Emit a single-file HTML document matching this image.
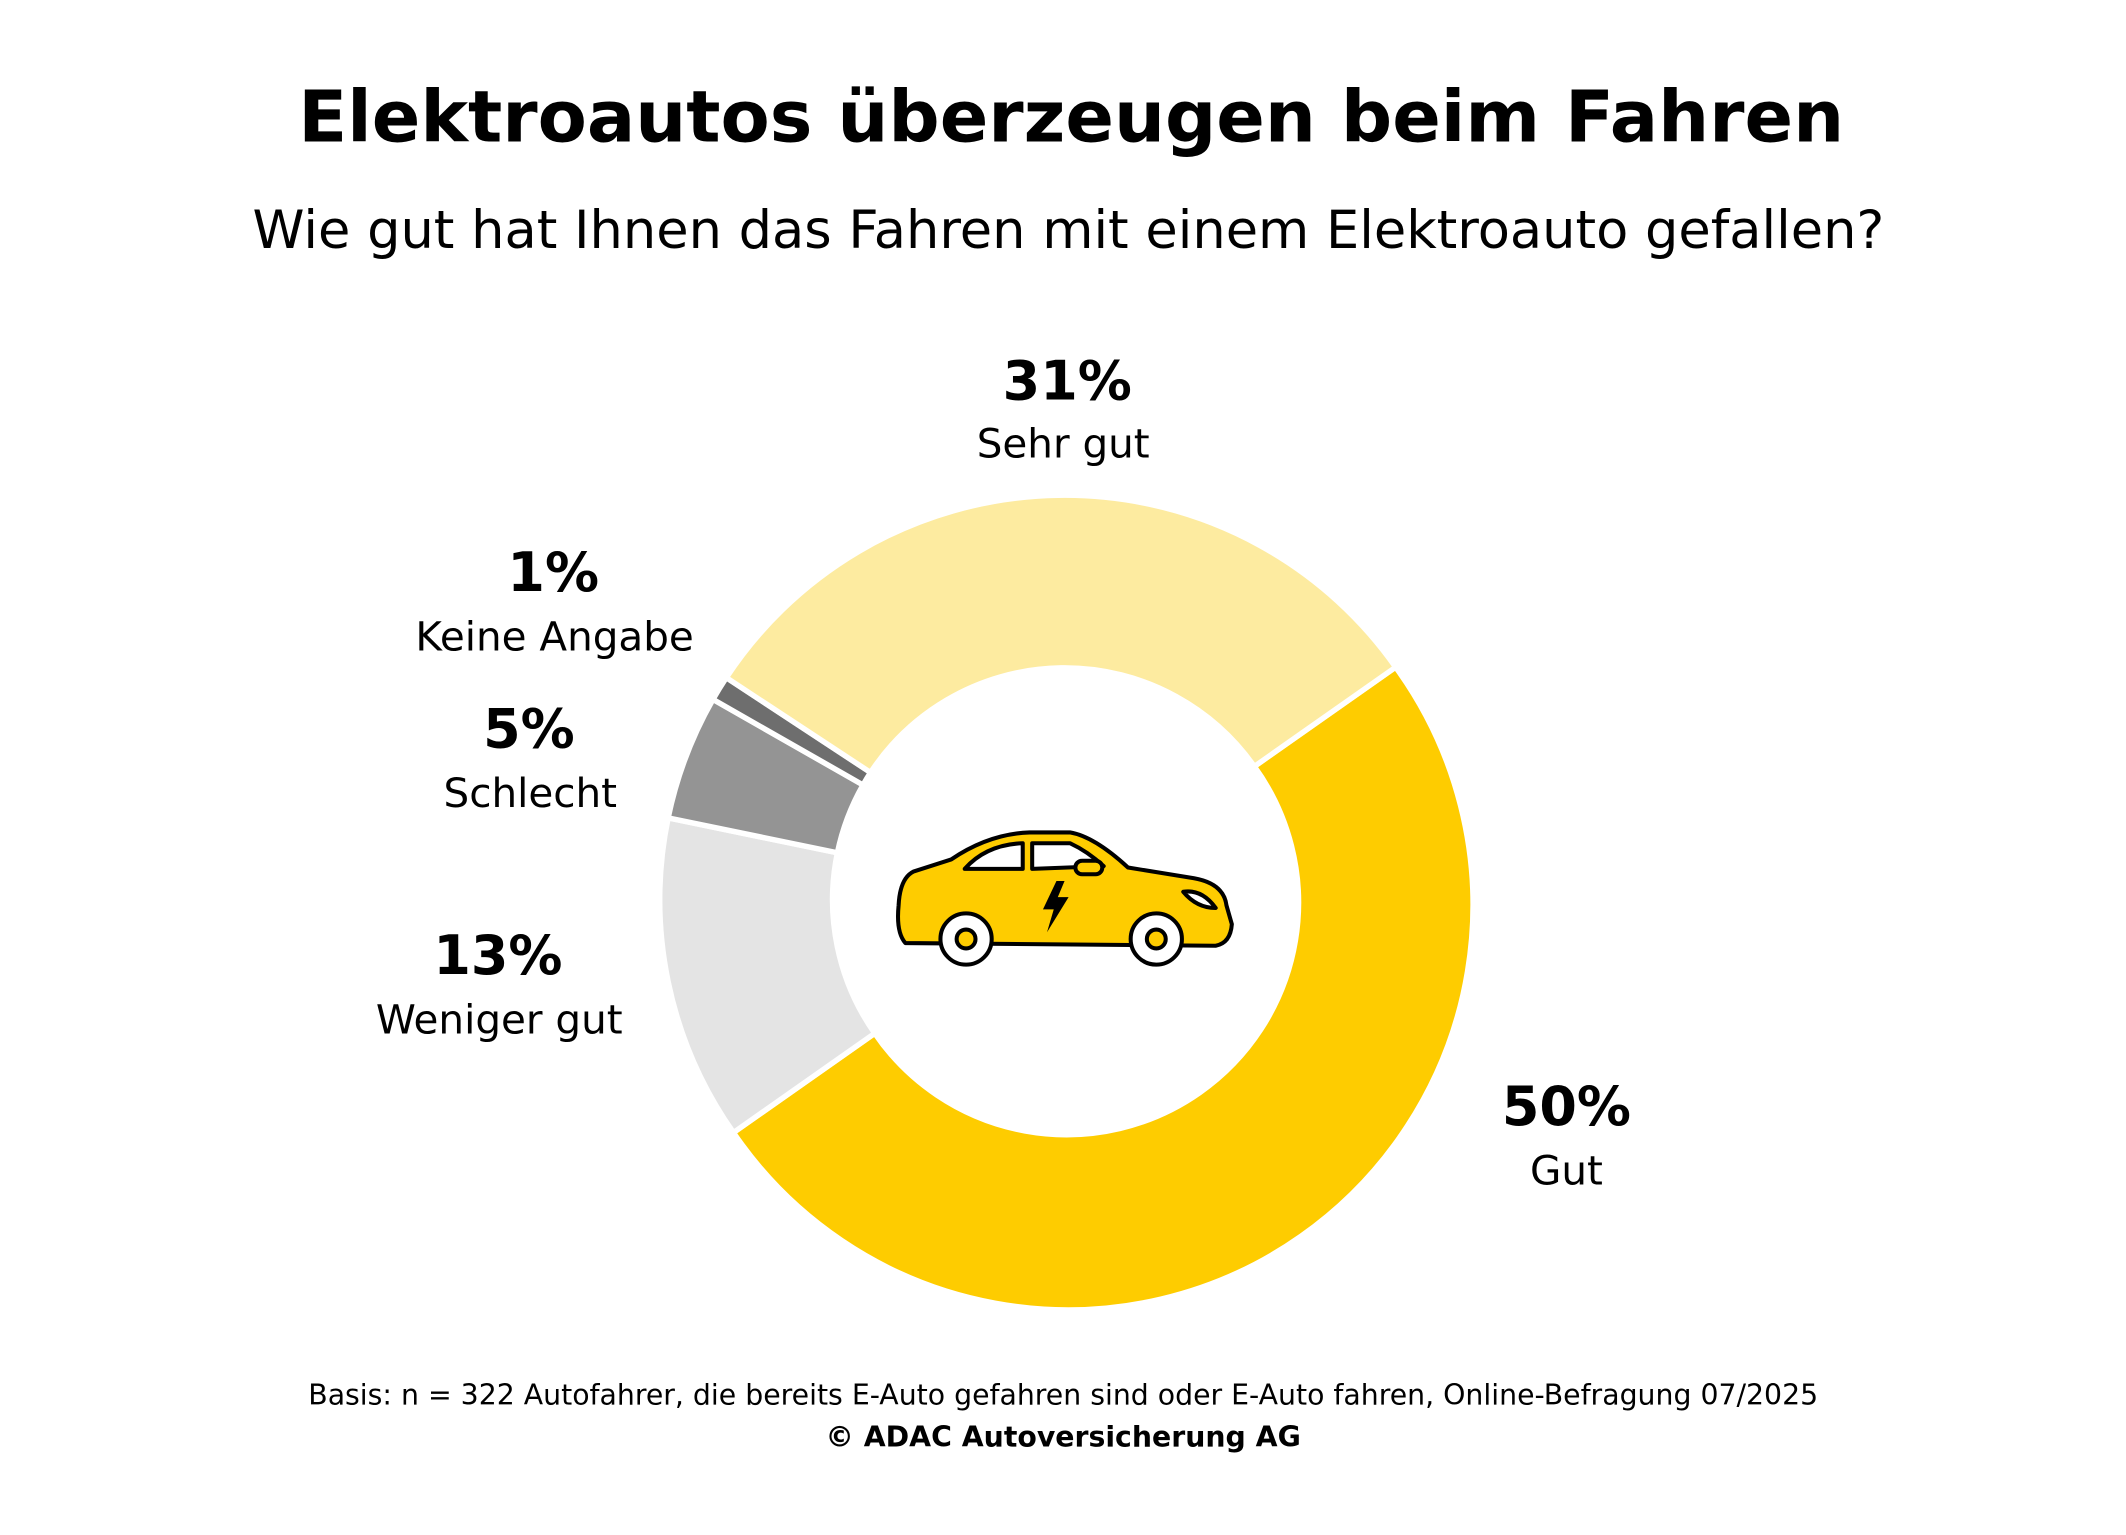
<!DOCTYPE html>
<html><head><meta charset="utf-8"><style>
html,body{margin:0;padding:0;background:#fff}
svg{display:block}
text{font-family:"DejaVu Sans","Liberation Sans",sans-serif;fill:#000}
</style></head><body>
<svg width="2126" height="1535" viewBox="0 0 1560 1126.4" xmlns="http://www.w3.org/2000/svg">
<rect width="1560" height="1126.4" fill="#fff"/>
<text x="786" y="104" text-anchor="middle" font-size="52.6" font-weight="bold">Elektroautos überzeugen beim Fahren</text>
<text x="784" y="182" text-anchor="middle" font-size="38.6">Wie gut hat Ihnen das Fahren mit einem Elektroauto gefallen?</text>

<g transform="matrix(0.99,0,0,0.99,3,1)">
<g stroke="#fff" stroke-width="4" stroke-linejoin="miter">
<path d="M1031.4,493.5 A300,300 0 1 1 540.6,838.5 L645.3,764.9 A172,172 0 1 0 926.7,567.1 Z" fill="#fecc00"/>
<path d="M540.6,838.5 A300,300 0 0 1 492.2,605.2 L617.6,631.1 A172,172 0 0 0 645.3,764.9 Z" fill="#e4e4e4"/>
<path d="M492.2,605.2 A300,300 0 0 1 525.4,517.4 L636.6,580.8 A172,172 0 0 0 617.6,631.1 Z" fill="#949494"/>
<path d="M525.4,517.4 A300,300 0 0 1 535.3,501.3 L642.2,571.6 A172,172 0 0 0 636.6,580.8 Z" fill="#6e6e6e"/>
<path d="M535.3,501.3 A300,300 0 0 1 1031.4,493.5 L926.7,567.1 A172,172 0 0 0 642.2,571.6 Z" fill="#fdeba0"/>
</g>

<g stroke="#000" stroke-width="3" stroke-linejoin="round">
<path d="M668,698 Q661,690 663,670 Q664,650 674,645 L702,636 Q730,617 760,616 L790,616 Q808,619 833,642 L882,650 Q904,654 906,670 L910,684 Q909,698 898,700 Z" fill="#fecc00"/>
<path d="M712,643 Q728,625 755,624 L755,643 Z" fill="#fff"/>
<path d="M762,624 L790,624 Q803,630 815,641 L762,643 Z" fill="#fff"/>
<rect x="794" y="637" width="20" height="10" rx="5" fill="#fecc00"/>
<path d="M874,660 Q888,658 898,672 Q884,672 874,660 Z" fill="#fff"/>
<circle cx="713" cy="695" r="19" fill="#fff"/>
<circle cx="713" cy="695" r="7" fill="#fecc00"/>
<circle cx="854" cy="695" r="19" fill="#fff"/>
<circle cx="854" cy="695" r="7" fill="#fecc00"/>
</g>
<path d="M780,652 L770,673 L778,673 L773,690 L789,664 L781,664 L786,652 Z" fill="#000"/>

<g text-anchor="middle">
<text x="788" y="295" font-size="40" font-weight="bold">31%</text>
<text x="785" y="338" font-size="30">Sehr gut</text>
<text x="407" y="437" font-size="40" font-weight="bold">1%</text>
<text x="408" y="481" font-size="30">Keine Angabe</text>
<text x="389" y="553" font-size="40" font-weight="bold">5%</text>
<text x="390" y="597" font-size="30">Schlecht</text>
<text x="366" y="721" font-size="40" font-weight="bold">13%</text>
<text x="367" y="765" font-size="30">Weniger gut</text>
<text x="1158" y="833" font-size="40" font-weight="bold">50%</text>
<text x="1158" y="877" font-size="30">Gut</text>
<text x="785" y="1040" font-size="21">Basis: n = 322 Autofahrer, die bereits E-Auto gefahren sind oder E-Auto fahren, Online-Befragung 07/2025</text>
<text x="785" y="1071" font-size="21" font-weight="bold">© ADAC Autoversicherung AG</text>
</g>
</g>
</svg>
</body></html>
